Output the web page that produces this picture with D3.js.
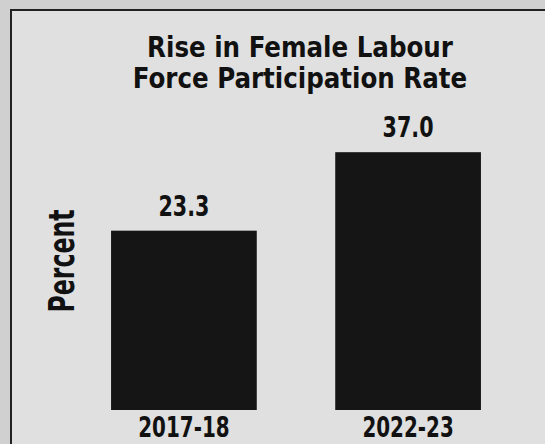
<html>
<head>
    <title>Female LFPR</title>
    <script src="https://cdn.jsdelivr.net/npm/d3@7/dist/d3.min.js"></script>
    <style type="text/css">
        body { margin: 0; background: #d0d0d0; }
        text { font-family: "Liberation Sans Narrow", "DejaVu Sans Condensed", sans-serif; font-weight: bold; fill: #111; }
    </style>
</head>
<body>
    <script>
        var w = 545;
        var h = 444;
        var years = ["2017-18", "2022-23"];
        var rates = [23.3, 37.0];
        var titleLines = ["Rise in Female Labour", "Force Participation Rate"];
        var yLabel = "Percent";

        var svg = d3.select("body")
            .append("svg")
            .attr("width", w)
            .attr("height", h);

        // frame
        svg.append("rect")
            .attr("x", 0).attr("y", 0)
            .attr("width", w).attr("height", h)
            .attr("fill", "#d0d0d0");
        svg.append("rect")
            .attr("x", 11).attr("y", 10)
            .attr("width", w).attr("height", h)
            .attr("fill", "#e0e0e0")
            .attr("stroke", "#222")
            .attr("stroke-width", 2);

        var x = d3.scaleBand()
            .domain(years)
            .range([32.6, 559.4])
            .padding(0.35);

        var y = d3.scaleLinear()
            .domain([-8, 40])
            .range([410, 135]);

        svg.selectAll("rect.bar")
            .data(rates)
            .enter()
            .append("rect")
            .attr("class", "bar")
            .attr("x", function(d, i) { return x(years[i]); })
            .attr("y", function(d) { return y(d); })
            .attr("width", x.bandwidth())
            .attr("height", function(d) { return y(-8) - y(d); })
            .attr("fill", "#151515");

        // fonts here are wider than the original's, so squeeze text sideways
        svg.selectAll("text.val")
            .data(rates)
            .enter()
            .append("text")
            .attr("class", "val")
            .attr("transform", function(d, i) {
                return "translate(" + (x(years[i]) + x.bandwidth() / 2) + "," + (y(d) - 15) + ") scale(0.82,1)";
            })
            .attr("text-anchor", "middle")
            .attr("font-size", "28px")
            .text(function(d) { return d.toFixed(1); });

        // category labels
        var xAxis = svg.append("g")
            .attr("transform", "translate(0,410)")
            .call(d3.axisBottom(x).tickSize(0).tickPadding(0));
        xAxis.select(".domain").remove();
        xAxis.attr("font-family", null).attr("font-size", null);
        xAxis.selectAll("text")
            .attr("dy", null)
            .attr("y", 0)
            .attr("transform", "translate(0,27) scale(0.79,1)")
            .attr("font-size", "28px");

        svg.selectAll("text.title")
            .data(titleLines)
            .enter()
            .append("text")
            .attr("class", "title")
            .attr("transform", function(d, i) {
                return "translate(300," + (57 + i * 31) + ") scale(0.975,1)";
            })
            .attr("text-anchor", "middle")
            .attr("font-size", "28px")
            .text(function(d) { return d; });

        svg.append("text")
            .attr("transform", "translate(74,261) rotate(-90) scale(0.75,1)")
            .attr("text-anchor", "middle")
            .attr("font-size", "35px")
            .text(yLabel);
    </script>
</body>
</html>
